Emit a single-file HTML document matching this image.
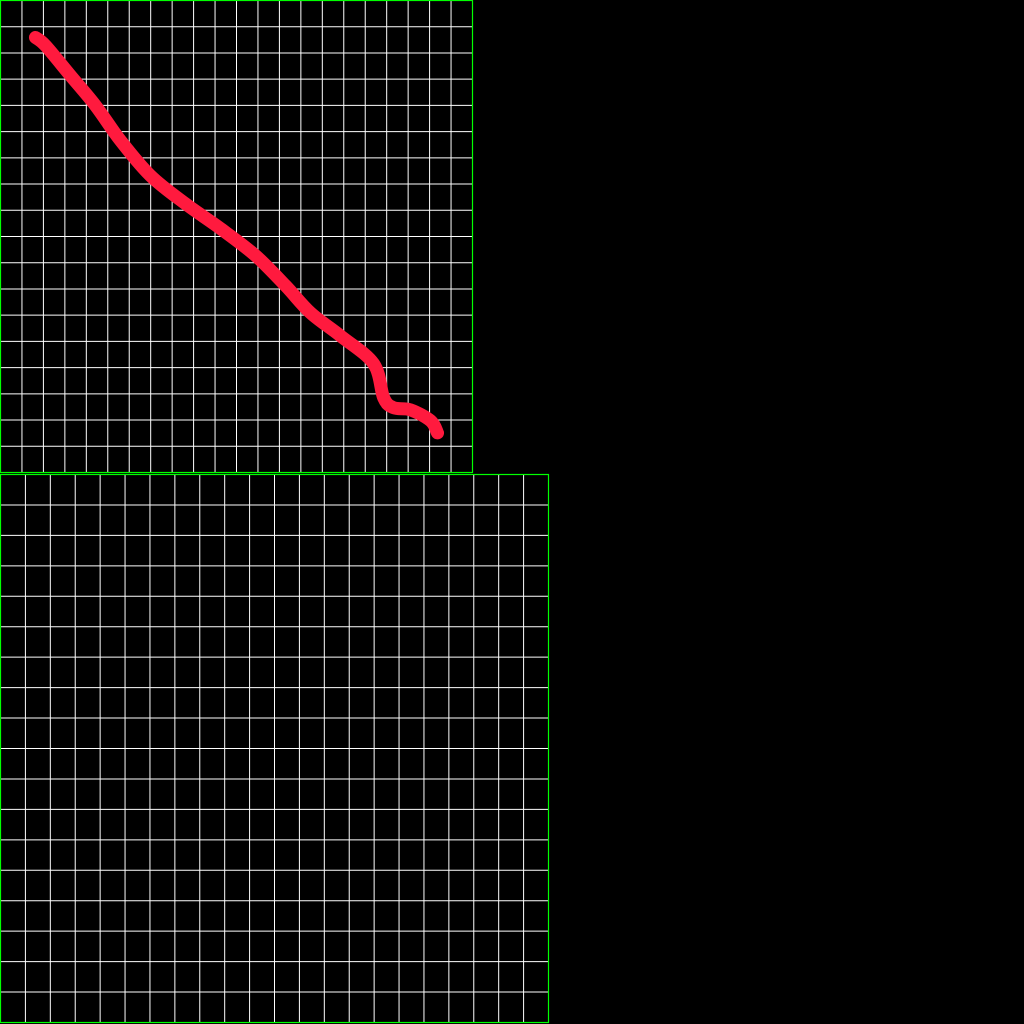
<!DOCTYPE html>
<html><head><meta charset="utf-8"><style>
html,body{margin:0;padding:0;background:#000;width:1024px;height:1024px;overflow:hidden}
svg{display:block}
</style></head><body>
<svg id="chart" width="1024" height="1024" viewBox="0 0 1024 1024">
<rect x="0" y="0" width="1024" height="1024" fill="#000"/>
<g id="topPanel"></g>
<g id="bottomPanel"></g>
</svg>
<script>
// stroke path in grid units (x: 0..22 cols, y: 0..18 rows) of top panel
const strokeX = [1.63,2.10,3.26,4.43,5.59,6.99,8.62,10.26,11.89,13.29,14.45,15.85,17.39,17.86,18.32,19.11,20.05,20.37];
const strokeY = [1.41,1.72,2.86,4.01,5.34,6.68,7.75,8.70,9.73,10.88,11.91,12.79,13.85,15.15,15.53,15.61,16.03,16.49];
const NS='http://www.w3.org/2000/svg';
function mk(tag,attrs,parent){const e=document.createElementNS(NS,tag);for(const k in attrs)e.setAttribute(k,attrs[k]);parent.appendChild(e);return e;}
function panel(g,x0,y0,w,h,cols,rows,prefix){
  const cw=w/cols, rh=h/rows;
  for(let i=1;i<cols;i++){const l=mk('line',{x1:x0+i*cw,y1:y0,x2:x0+i*cw,y2:y0+h,stroke:'#fff','stroke-width':1},g);
    
    }
  for(let j=1;j<rows;j++){const l=mk('line',{x1:x0,y1:y0+j*rh,x2:x0+w,y2:y0+j*rh,stroke:'#fff','stroke-width':1},g);
    
    }
  const b=mk('rect',{x:x0,y:y0,width:w,height:h,fill:'none',stroke:'#00ff00','stroke-width':1.2},g);
  
  
  return {sx:v=>x0+v*cw, sy:v=>y0+v*rh};
}
const topPanel=document.getElementById('topPanel'), bottomPanel=document.getElementById('bottomPanel');
const ax=panel(topPanel,0.5,0.5,472,472,22,18,'top');
panel(bottomPanel,0.5,474.5,548,548,22,18,'bottom');
const pts=strokeX.map((x,i)=>[ax.sx(x),ax.sy(strokeY[i])]);
let d='M'+pts[0][0]+','+pts[0][1];
for(let i=0;i<pts.length-1;i++){
  const p0=pts[Math.max(0,i-1)],p1=pts[i],p2=pts[i+1],p3=pts[Math.min(pts.length-1,i+2)];
  const c1=[p1[0]+(p2[0]-p0[0])/6,p1[1]+(p2[1]-p0[1])/6];
  const c2=[p2[0]-(p3[0]-p1[0])/6,p2[1]-(p3[1]-p1[1])/6];
  d+=' C'+c1+' '+c2+' '+p2;
}
const path=mk('path',{d:d,fill:'none',stroke:'#ff1a3e','stroke-width':13,'stroke-linecap':'round','stroke-linejoin':'round'},topPanel);


</script>
</body></html>
